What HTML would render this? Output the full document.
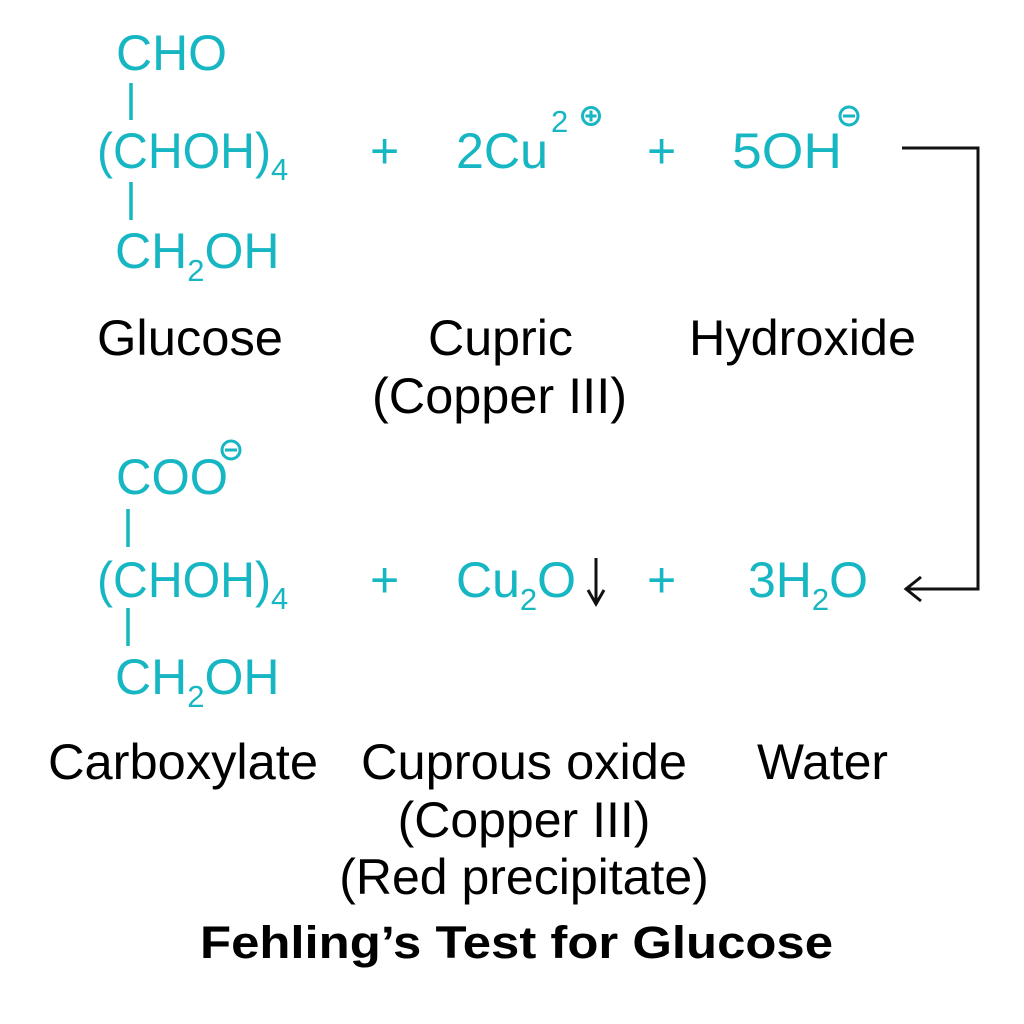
<!DOCTYPE html>
<html><head><meta charset="utf-8"><style>html,body{margin:0;padding:0;background:#fff}svg{display:block}</style></head>
<body>
<svg width="1024" height="1024" viewBox="0 0 1024 1024" xmlns="http://www.w3.org/2000/svg" font-family="Liberation Sans, Arial, sans-serif">
<g fill="#17b6c3" font-size="50">
  <text x="116" y="70" textLength="111" lengthAdjust="spacingAndGlyphs">CHO</text>
  <text x="97" y="168"><tspan textLength="174" lengthAdjust="spacingAndGlyphs">(CHOH)</tspan><tspan font-size="31" dy="12">4</tspan></text>
  <text x="115" y="268">CH<tspan font-size="31" dy="13">2</tspan><tspan dy="-13">OH</tspan></text>
  <text x="370" y="168">+</text>
  <text x="456" y="168" textLength="92" lengthAdjust="spacingAndGlyphs">2Cu</text>
  <text x="551" y="132" font-size="31">2</text>
  <text x="647" y="168">+</text>
  <text x="732" y="168" textLength="110" lengthAdjust="spacingAndGlyphs">5OH</text>

  <text x="116" y="494" textLength="112" lengthAdjust="spacingAndGlyphs">COO</text>
  <text x="97" y="597"><tspan textLength="174" lengthAdjust="spacingAndGlyphs">(CHOH)</tspan><tspan font-size="31" dy="12">4</tspan></text>
  <text x="115" y="694">CH<tspan font-size="31" dy="13">2</tspan><tspan dy="-13">OH</tspan></text>
  <text x="370" y="597">+</text>
  <text x="456" y="597">Cu<tspan font-size="31" dy="13">2</tspan><tspan dy="-13">O</tspan></text>
  <text x="647" y="597">+</text>
  <text x="748" y="597">3H<tspan font-size="31" dy="13">2</tspan><tspan dy="-13">O</tspan></text>
</g>
<g stroke="#17b6c3" stroke-width="3.5" fill="none">
  <line x1="131" y1="83" x2="131" y2="120"/>
  <line x1="131" y1="182" x2="131" y2="220"/>
  <line x1="128" y1="509" x2="128" y2="547"/>
  <line x1="128" y1="608" x2="128" y2="646"/>
  <circle cx="591" cy="116" r="8.5" stroke-width="3"/>
  <line x1="585.5" y1="116" x2="596.5" y2="116" stroke-width="3"/>
  <line x1="591" y1="110.5" x2="591" y2="121.5" stroke-width="3"/>
  <circle cx="849" cy="116" r="9" stroke-width="3"/>
  <line x1="843" y1="116" x2="855" y2="116" stroke-width="3"/>
  <circle cx="231" cy="450" r="9" stroke-width="3"/>
  <line x1="225" y1="450" x2="237" y2="450" stroke-width="3"/>
</g>
<g stroke="#111" stroke-width="3" fill="none">
  <polyline points="902,148 978,148 978,589 908,589"/>
  <polyline points="921,577 906,589 921,601"/>
  <line x1="596" y1="558" x2="596" y2="603"/>
  <polyline points="588,590 596,604 604,590"/>
</g>
<g fill="#000" font-size="50">
  <text x="97" y="355" textLength="186" lengthAdjust="spacingAndGlyphs">Glucose</text>
  <text x="428" y="355" textLength="145" lengthAdjust="spacingAndGlyphs">Cupric</text>
  <text x="372" y="413" textLength="255" lengthAdjust="spacingAndGlyphs">(Copper III)</text>
  <text x="689" y="355" textLength="227" lengthAdjust="spacingAndGlyphs">Hydroxide</text>
  <text x="48" y="779" textLength="270" lengthAdjust="spacingAndGlyphs">Carboxylate</text>
  <text x="361" y="779" textLength="326" lengthAdjust="spacingAndGlyphs">Cuprous oxide</text>
  <text x="757" y="779" textLength="131" lengthAdjust="spacingAndGlyphs">Water</text>
  <text x="524" y="837" text-anchor="middle">(Copper III)</text>
  <text x="524" y="894" text-anchor="middle">(Red precipitate)</text>
  <text x="200" y="958" font-weight="bold" font-size="45" textLength="633" lengthAdjust="spacingAndGlyphs">Fehling’s Test for Glucose</text>
</g>
</svg>
</body></html>
